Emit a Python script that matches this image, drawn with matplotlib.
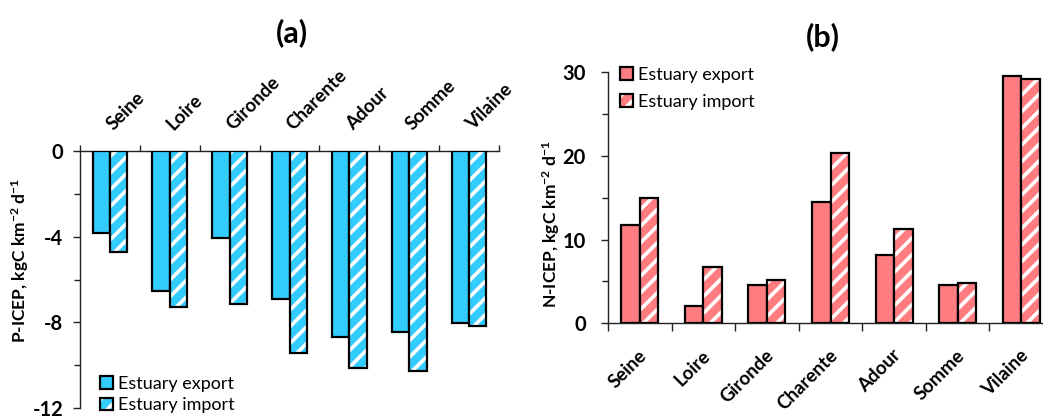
import numpy as np
import matplotlib
matplotlib.use('Agg')
import matplotlib.pyplot as plt
from matplotlib.patches import Patch

# ── data ──────────────────────────────────────────────
ESTUARIES = ['Seine', 'Loire', 'Gironde', 'Charente', 'Adour', 'Somme', 'Vilaine']

P_EXPORT = [-3.83, -6.54, -4.06, -6.91, -8.70, -8.45, -8.02]
P_IMPORT = [-4.73, -7.28, -7.13, -9.42, -10.15, -10.26, -8.19]

N_EXPORT = [11.7, 2.1, 4.6, 14.5, 8.1, 4.6, 29.5]
N_IMPORT = [15.0, 6.7, 5.2, 20.3, 11.2, 4.8, 29.2]

P_YTICKS = [0, -4, -8, -12]
N_YTICKS = [0, 10, 20, 30]

BLUE = '#33CCFF'
PINK = '#FF7C80'

plt.rcParams['font.family'] = ['Lato', 'DejaVu Sans']
plt.rcParams['mathtext.fontset'] = 'custom'
plt.rcParams['mathtext.rm'] = 'Lato'
plt.rcParams['mathtext.bf'] = 'Lato:bold'
plt.rcParams['mathtext.default'] = 'bf'
plt.rcParams['axes.unicode_minus'] = False
plt.rcParams['hatch.linewidth'] = 2.6
plt.rcParams['axes.linewidth'] = 1.0

W = 0.29
x = np.arange(len(ESTUARIES)) + 0.5

fig = plt.figure(figsize=(10.43, 4.17), dpi=100)
fig.patch.set_facecolor('white')


def draw_bars(ax, exp, imp, color):
    ax.bar(x - W / 2, exp, W, color=color, edgecolor='black', linewidth=1.6, zorder=3)
    ax.bar(x + W / 2, imp, W, color=color, edgecolor='white', hatch='//',
           linewidth=0, zorder=3)
    ax.bar(x + W / 2, imp, W, fill=False, edgecolor='black', linewidth=1.6, zorder=4)
    h_exp = Patch(facecolor=color, edgecolor='black', linewidth=1.6)
    h_imp = (Patch(facecolor=color, edgecolor='white', hatch='//', linewidth=0),
             Patch(fill=False, edgecolor='black', linewidth=1.6))
    return h_exp, h_imp


def style_axis(ax, yticks, minor):
    ax.set_xlim(0, 7)
    ax.set_xticks(np.arange(8))
    ax.set_xticklabels([])
    ax.set_xticks(x, minor=True)
    ax.set_yticks(yticks)
    ax.set_yticks(minor, minor=True)
    ax.set_yticklabels([str(v) for v in yticks], fontweight='bold', fontsize=14.5)
    for sp in ax.spines.values():
        sp.set_color('#222222')
    ax.tick_params(axis='y', which='major', direction='out', length=5,
                   width=1, colors='#222222', labelcolor='black')
    ax.tick_params(axis='y', which='minor', direction='out', length=4, width=1,
                   colors='#222222')


# ══════════════════════════════════════════════════════
#  (a) P-ICEP
# ══════════════════════════════════════════════════════
axa = fig.add_axes([80 / 1043, 1 - 408 / 417, 419 / 1043, 257 / 417])
h_exp, h_imp = draw_bars(axa, P_EXPORT, P_IMPORT, BLUE)
axa.set_ylim(-12, 0)
style_axis(axa, P_YTICKS, [-2, -6, -10])
axa.tick_params(axis='y', pad=7)
axa.xaxis.tick_top()
axa.spines['bottom'].set_visible(False)
axa.spines['right'].set_visible(False)
axa.tick_params(axis='x', which='major', direction='out', length=4, width=1,
                colors='#222222')
axa.tick_params(axis='x', which='minor', length=0)
for xi, name in zip(x, ESTUARIES):
    axa.text(xi + 0.06, 0.95, name, rotation=45, rotation_mode='anchor',
             ha='left', va='baseline', fontsize=13.5, fontweight='bold',
             transform=axa.transData, clip_on=False)
axa.set_ylabel('P-ICEP, kgC km$^{-2}$ d$^{-1}$', fontsize=12.5, fontweight='bold')
axa.yaxis.set_label_coords(-49 / 419, (408 - 260) / 257)
axa.legend([h_exp, h_imp], ['Estuary export', 'Estuary import'],
           loc='upper left', bbox_to_anchor=(100 / 1043, 1 - 376 / 417),
           bbox_transform=fig.transFigure, frameon=False, fontsize=13,
           handlelength=0.7, handleheight=0.7, handletextpad=0.3,
           labelspacing=0.3, borderpad=0, borderaxespad=0)
fig.text(292 / 1043, 1 - 33 / 417, '(a)', fontsize=22, fontweight='bold',
         ha='center', va='center')

# ══════════════════════════════════════════════════════
#  (b) N-ICEP
# ══════════════════════════════════════════════════════
axb = fig.add_axes([608 / 1043, 1 - 323.3 / 417, 445 / 1043, 251.3 / 417])
h_exp, h_imp = draw_bars(axb, N_EXPORT, N_IMPORT, PINK)
axb.set_ylim(0, 30)
style_axis(axb, N_YTICKS, [5, 15, 25])
axb.tick_params(axis='y', pad=11)
axb.spines['top'].set_visible(False)
axb.spines['right'].set_visible(False)
axb.tick_params(axis='x', which='major', direction='out', length=6, width=1,
                colors='#222222')
axb.tick_params(axis='x', which='minor', length=0)
for xi, name in zip(x, ESTUARIES):
    axb.text(xi - 0.03, -2.8, name, rotation=45, rotation_mode='anchor',
             ha='right', va='top', fontsize=13.5, fontweight='bold',
             transform=axb.transData, clip_on=False)
axb.set_ylabel('N-ICEP, kgC km$^{-2}$ d$^{-1}$', fontsize=12.5, fontweight='bold')
axb.yaxis.set_label_coords(-46 / 445, (323.3 - 224) / 251.3)
axb.legend([h_exp, h_imp], ['Estuary export', 'Estuary import'],
           loc='upper left', bbox_to_anchor=(620 / 1043, 1 - 67 / 417),
           bbox_transform=fig.transFigure, frameon=False, fontsize=13,
           handlelength=0.7, handleheight=0.7, handletextpad=0.3,
           labelspacing=0.6, borderpad=0, borderaxespad=0)
fig.text(823 / 1043, 1 - 37 / 417, '(b)', fontsize=22, fontweight='bold',
         ha='center', va='center')

fig.savefig('out.png', dpi=100, facecolor='white')
